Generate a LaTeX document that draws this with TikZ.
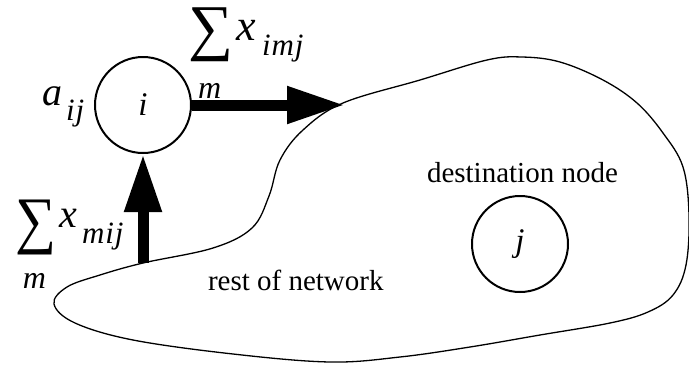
\documentclass[tikz,border=0pt]{standalone}
\usepackage{fontspec}
\setmainfont{Liberation Serif}
\usetikzlibrary{arrows.meta}
\newcommand{\fsz}[1]{\fontsize{#1}{#1}\selectfont}
\tikzset{
  lbl/.style={inner sep=0pt, outer sep=0pt, anchor=base west},
  netnode/.style={circle, draw, line width=2pt, minimum size=96pt, inner sep=0pt, font=\fsz{33}\itshape},
  flow/.style={line width=11pt, -{Triangle[length=58pt,width=35pt]}},
  region/.style={line width=1.3pt},
}
\begin{document}
\begin{tikzpicture}[x=1pt,y=-1pt]
\useasboundingbox (0,0) rectangle (689,365);
% blob (rest of network)
\draw[region] plot[smooth cycle, tension=0.6] coordinates {
  (343,103) (420,80) (487,60) (522,57) (560,62) (603,80) (637,103) (663,133)
  (683,167) (689,215) (686,265) (673,295) (648,312) (610,323) (540,335)
  (470,347) (400,357) (330,362) (233,354) (133,340) (75,323) (54,304)
  (67,287) (100,275) (143,263) (213,248) (252,228) (269,196) (280,160)
  (303,130)};
% nodes
\node[netnode] (i) at (143,105) {i};
\node[netnode] (j) at (520,244) {j};
% connectors
\coordinate (tipA) at (345,105);
\coordinate (baseB) at (143,263);
\draw[flow] (i.east) -- (tipA);
\draw[flow] (baseB) -- (i.south);
% labels top
\node[inner sep=0pt, anchor=north west] (s1) at (188,8) {\resizebox*{45pt}{54pt}{∑}};
\node[lbl, font=\fsz{44}\itshape] (x1) at (236,40) {x};
\node[lbl, font=\fsz{31}\itshape] (x1s) at (262,55) {i\kern1pt m\kern1pt j};
\node[lbl, font=\fsz{32}\itshape] (m1) at (198,98) {m};
% a_ij
\node[lbl, font=\fsz{40}\itshape] (a) at (42,105) {a};
\node[lbl, font=\fsz{31}\itshape] (as) at (66,120) {i\kern1pt j};
% labels left
\node[inner sep=0pt, anchor=north west] (s2) at (15,200) {\resizebox*{41pt}{55pt}{∑}};
\node[lbl, font=\fsz{40}\itshape] (x2) at (59,227) {x};
\node[lbl, font=\fsz{31}\itshape] (x2s) at (82,243) {m\kern1pt i\kern1pt j};
\node[lbl, font=\fsz{32}\itshape] (m2) at (23,288) {m};
% texts
\node[lbl, font=\fsz{29}] (rest) at (208,290) {rest of network};
\node[lbl, font=\fsz{29}] (dest) at (427,182) {destination node};
\end{tikzpicture}
\end{document}
